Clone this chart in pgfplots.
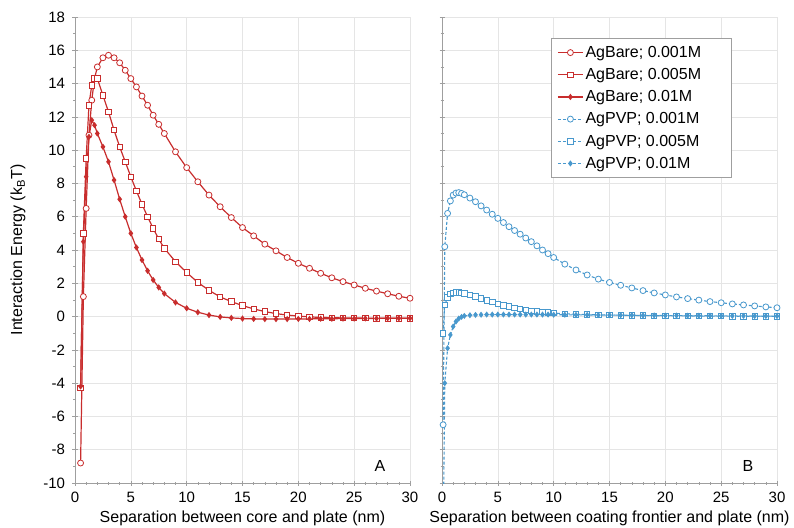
\documentclass[border=0pt]{standalone}
\usepackage{fontspec}
\setmainfont{Liberation Sans}
\usepackage{pgfplots}
\pgfplotsset{compat=1.18}
\usepackage{pgfplotstable}
\definecolor{cred}{RGB}{200,45,45}
\definecolor{cblue}{RGB}{72,152,205}

\pgfplotstableread{
x b1 b5 b10
0.5 -8.8 -4.3 -4.2
0.75 1.2 5.0 4.5
1 6.5 9.5 8.4
1.25 10.9 12.7 10.8
1.5 13.0 13.9 11.8
1.75 14.3 14.3 11.5
2 15.0 14.3 11.0
2.5 15.55 13.3 10.2
3 15.7 12.3 9.3
3.5 15.55 11.2 8.2
4 15.25 10.2 7.05
4.5 14.8 9.3 6.0
5 14.3 8.4 5.0
5.5 13.8 7.55 4.15
6 13.25 6.75 3.4
6.5 12.7 6.0 2.75
7 12.1 5.3 2.2
7.5 11.55 4.65 1.75
8 11.0 4.1 1.38
9 9.9 3.3 0.85
10 8.95 2.65 0.5
11 8.1 2.05 0.26
12 7.3 1.58 0.09
13 6.6 1.18 -0.02
14 5.95 0.9 -0.08
15 5.35 0.66 -0.12
16 4.85 0.46 -0.14
17 4.35 0.3 -0.15
18 3.95 0.18 -0.15
19 3.55 0.09 -0.15
20 3.2 0.03 -0.14
21 2.9 -0.02 -0.14
22 2.6 -0.05 -0.13
23 2.33 -0.07 -0.13
24 2.1 -0.08 -0.12
25 1.9 -0.09 -0.12
26 1.7 -0.09 -0.11
27 1.53 -0.1 -0.11
28 1.37 -0.1 -0.1
29 1.22 -0.1 -0.1
30 1.1 -0.1 -0.1
}\bare

\pgfplotstableread{
x p1 p5 p10
0.1 -6.5 -1.0 -14
0.25 4.2 0.7 -4.0
0.5 6.2 1.15 -1.9
0.75 6.95 1.35 -1.1
1 7.3 1.43 -0.6
1.25 7.42 1.46 -0.3
1.5 7.45 1.46 -0.12
1.75 7.4 1.43 -0.02
2 7.32 1.4 0.04
2.5 7.12 1.3 0.08
3 6.9 1.2 0.1
3.5 6.65 1.08 0.11
4 6.4 0.97 0.12
4.5 6.15 0.87 0.12
5 5.9 0.77 0.12
5.5 5.65 0.68 0.12
6 5.4 0.6 0.12
6.5 5.17 0.53 0.12
7 4.95 0.46 0.12
7.5 4.72 0.4 0.12
8 4.5 0.35 0.12
8.5 4.25 0.31 0.12
9 4.0 0.27 0.12
9.5 3.78 0.24 0.12
10 3.55 0.21 0.11
11 3.15 0.17 0.11
12 2.8 0.14 0.1
13 2.5 0.12 0.1
14 2.25 0.1 0.09
15 2.05 0.09 0.09
16 1.88 0.08 0.08
17 1.72 0.07 0.08
18 1.56 0.06 0.07
19 1.42 0.05 0.07
20 1.3 0.05 0.06
21 1.18 0.04 0.06
22 1.08 0.04 0.05
23 0.99 0.03 0.05
24 0.9 0.03 0.05
25 0.83 0.03 0.04
26 0.76 0.02 0.04
27 0.7 0.02 0.04
28 0.64 0.02 0.03
29 0.58 0.02 0.03
30 0.53 0.02 0.03
}\pvp

\pgfplotsset{
  panel/.style={
    scale only axis, width=335pt, height=466pt,
    xmin=0, xmax=30, ymin=-10, ymax=18,
    xtick={0,5,...,30}, ytick={-10,-8,...,18},
    minor x tick num=4, minor y tick num=1,
    axis x line*=bottom, axis y line*=left,
    axis line style={-, gray!75, line width=0.7pt},
    tick style={gray!75, line width=0.6pt},
    tick align=center,
    major tick length=5pt, minor tick length=3pt,
    grid=major, major grid style={gray!20, line width=0.5pt},
    tick label style={font=\fontsize{15}{18}\selectfont},
    x tick label style={yshift=-3pt},
    y tick label style={xshift=-4pt},
    /pgf/number format/assume math mode=true,
    every axis x label/.style={at={(axis description cs:0.5,0)}, anchor=center, yshift=-35pt, font=\fontsize{16}{19}\selectfont},
    every axis y label/.style={at={(axis description cs:-0.17,0.5)}, rotate=90, anchor=center, font=\fontsize{16}{19}\selectfont},
    legend image code/.code={\draw[mark repeat=2,mark phase=2] plot coordinates {(0pt,0pt)(12.5pt,0pt)(25pt,0pt)};},
  },
  b1/.style={cred, line width=1.2pt, mark=*, mark size=3pt, mark options={solid, fill=white, line width=0.8pt}},
  b5/.style={cred, line width=1.2pt, mark=square*, mark size=2.7pt, mark options={solid, fill=white, line width=0.8pt}},
  b10/.style={cred, line width=1.2pt, mark=diamond*, mark size=2.2pt, mark options={solid, fill=cred}},
  p1/.style={cblue, line width=1.1pt, dash pattern=on 3pt off 2pt, mark=*, mark size=3pt, mark options={solid, fill=white, line width=0.8pt}},
  p5/.style={cblue, line width=1.1pt, dash pattern=on 3pt off 2pt, mark=square*, mark size=2.7pt, mark options={solid, fill=white, line width=0.8pt}},
  p10/.style={cblue, line width=1.1pt, dash pattern=on 3pt off 2pt, mark=diamond*, mark size=2.2pt, mark options={solid, fill=cblue}},
}

\newcommand{\pad}{\hspace*{22pt}\null}

\begin{document}
\begin{tikzpicture}
\useasboundingbox (-75pt,-44pt) rectangle (719pt,483pt);
\begin{axis}[panel, name=A,
  xlabel={Separation between core and plate (nm)},
  ylabel={Interaction Energy (k\textsubscript{B}T)}]
\addplot[b1] table[x=x, y=b1] {\bare};
\addplot[b5] table[x=x, y=b5] {\bare};
\addplot[b10] table[x=x, y=b10] {\bare};
\node[font=\fontsize{16}{19}\selectfont] at (axis cs:27.3,-9.0) {A};
\end{axis}
\begin{axis}[panel, at={(A.south east)}, xshift=32pt, anchor=south west,
  y tick label style={opacity=0},
  xlabel={Separation between coating frontier and plate (nm)},
  legend cell align=left,
  legend style={at={(axis description cs:0.864,0.955)}, anchor=north east,
    draw=gray!75, line width=0.6pt, font=\fontsize{16}{19}\selectfont,
    row sep=5.5pt, inner xsep=6pt, inner ysep=6pt}]
\addlegendimage{b1}\addlegendentry{AgBare; 0.001M\pad}
\addlegendimage{b5}\addlegendentry{AgBare; 0.005M\pad}
\addlegendimage{b10}\addlegendentry{AgBare; 0.01M\pad}
\addplot[p1] table[x=x, y=p1] {\pvp};\addlegendentry{AgPVP; 0.001M\pad}
\addplot[p5] table[x=x, y=p5] {\pvp};\addlegendentry{AgPVP; 0.005M\pad}
\addplot[p10] table[x=x, y=p10] {\pvp};\addlegendentry{AgPVP; 0.01M\pad}
\node[font=\fontsize{16}{19}\selectfont] at (axis cs:27.4,-9.0) {B};
\end{axis}
\end{tikzpicture}
\end{document}
